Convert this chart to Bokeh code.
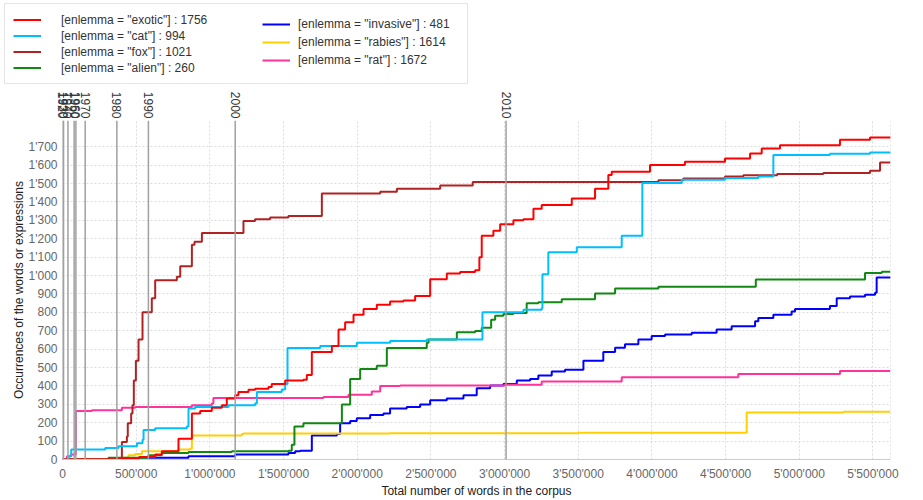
import math
from bokeh.plotting import figure
from bokeh.layouts import column, row
from bokeh.models import (Range1d, FixedTicker, CustomJSTickFormatter, Span, LinearAxis,
                          Legend, LegendItem)
from bokeh.embed import file_html
from bokeh.resources import INLINE

# ---------------- data ----------------
exotic_x = [0, 400000, 520000, 629000, 674000, 787000, 878000, 934000, 1013000, 1081000,
            1115000, 1172000, 1194000, 1262000, 1307000, 1398000, 1420000, 1511000, 1635000, 1658000,
            1692000, 1828000, 1873000, 1918000, 1975000, 2043000, 2133000, 2223000, 2314000, 2393000,
            2495000, 2608000, 2698000, 2800000, 2829000, 2845000, 2924000, 2970000, 3060000, 3128000,
            3196000, 3252000, 3456000, 3614000, 3704000, 3727000, 3987000, 4224000, 4496000, 4666000,
            4745000, 4869000, 5276000, 5480000, 5619000]
exotic_y = [0, 5, 14, 27, 45, 113, 250, 263, 281, 295,
            331, 349, 367, 379, 385, 394, 411, 429, 433, 460,
            585, 617, 707, 746, 787, 818, 841, 859, 864, 889,
            980, 1011, 1020, 1029, 1100, 1217, 1243, 1279, 1301, 1306,
            1363, 1383, 1419, 1472, 1547, 1565, 1601, 1619, 1637, 1664,
            1691, 1708, 1739, 1750, 1756]

cat_x = [0, 41000, 59000, 290000, 380000, 505000, 543000, 550000, 629000, 844000,
         855000, 900000, 1126000, 1307000, 1319000, 1488000, 1511000, 1527000, 1749000, 1997000,
         2223000, 2472000, 2850000, 3128000, 3252000, 3257000, 3297000, 3490000, 3795000, 3935000,
         4202000, 4496000, 4722000, 4824000, 5208000, 5480000, 5619000]
cat_y = [0, 18, 54, 63, 72, 89, 107, 161, 170, 179,
         277, 286, 295, 304, 367, 381, 411, 606, 617, 635,
         644, 653, 801, 814, 823, 1007, 1127, 1154, 1217, 1503,
         1521, 1530, 1539, 1655, 1662, 1669, 1673]

fox_x = [0, 403000, 437000, 443000, 466000, 475000, 484000, 498000, 516000, 543000,
         606000, 629000, 776000, 799000, 878000, 896000, 946000, 1228000, 1307000, 1409000,
         1533000, 1760000, 2156000, 2269000, 2563000, 2784000, 4044000, 4213000, 4496000, 4620000,
         4850000, 5163000, 5480000, 5548000, 5619000]
fox_y = [0, 95, 125, 197, 250, 295, 430, 537, 653, 801,
         877, 975, 993, 1050, 1168, 1184, 1231, 1297, 1306, 1315,
         1324, 1446, 1455, 1472, 1490, 1508, 1518, 1528, 1538, 1546,
         1552, 1557, 1570, 1614, 1614]

alien_x = [0, 312000, 584000, 674000, 855000, 1149000, 1533000, 1556000, 1574000, 1635000,
           1896000, 1952000, 2020000, 2133000, 2201000, 2472000, 2484000, 2676000, 2800000, 2845000,
           2909000, 2936000, 2992000, 3060000, 3150000, 3229000, 3388000, 3614000, 3750000, 4044000,
           4705000, 5446000, 5560000, 5619000]
alien_y = [0, 9, 23, 36, 41, 45, 48, 80, 179, 197,
           299, 438, 492, 510, 606, 635, 653, 692, 698, 716,
           760, 782, 791, 796, 850, 855, 871, 903, 930, 939,
           979, 1014, 1021, 1021]

invasive_x = [0, 584000, 855000, 1172000, 1533000, 1579000, 1613000, 1692000, 1862000, 1884000,
              1952000, 1997000, 2088000, 2178000, 2223000, 2336000, 2427000, 2495000, 2608000, 2721000,
              2811000, 2902000, 2992000, 3083000, 3173000, 3229000, 3320000, 3410000, 3535000, 3670000,
              3750000, 3817000, 3908000, 3998000, 4089000, 4270000, 4439000, 4541000, 4700000, 4722000,
              4824000, 4948000, 4971000, 5208000, 5254000, 5344000, 5446000, 5514000, 5525000, 5619000]
invasive_y = [0, 9, 18, 27, 36, 45, 48, 131, 138, 197,
              209, 224, 242, 250, 277, 286, 299, 322, 331, 349,
              388, 402, 411, 429, 438, 456, 478, 488, 537, 585,
              608, 626, 653, 671, 680, 689, 707, 725, 751, 769,
              787, 805, 818, 835, 877, 886, 895, 907, 989, 993]

rabies_x = [0, 403000, 448000, 493000, 539000, 787000, 866000, 878000, 1217000, 1228000,
            2223000, 3500000, 4643000, 5300000, 5619000]
rabies_y = [0, 9, 23, 30, 45, 54, 59, 131, 138, 141,
            143, 146, 256, 260, 260]

rat_x = [0, 30000, 59000, 91000, 199000, 403000, 493000, 878000, 1013000, 1024000,
         1771000, 1941000, 2099000, 2156000, 2291000, 3000000, 3252000, 3795000, 4586000, 5276000,
         5619000]
rat_y = [0, 18, 27, 263, 268, 281, 286, 295, 304, 335,
         340, 352, 370, 399, 402, 406, 424, 447, 465, 481,
         481]

legend_left = ['[enlemma = "exotic"] : 1756', '[enlemma = "cat"] : 994',
               '[enlemma = "fox"] : 1021', '[enlemma = "alien"] : 260']
legend_right = ['[enlemma = "invasive"] : 481', '[enlemma = "rabies"] : 1614',
                '[enlemma = "rat"] : 1672']

years = ["1920", "1930", "1940", "1950", "1960", "1970", "1980", "1990", "2000", "2010"]
year_x = [2000, 7000, 37000, 79000, 91000, 154000, 369000, 583000, 1172000, 3010000]

x_ticks = [0, 500000, 1000000, 1500000, 2000000, 2500000, 3000000, 3500000, 4000000,
           4500000, 5000000, 5500000]
y_ticks = list(range(0, 1800, 100))
x_end = 5619000
y_end = 1843

FONT = "Liberation Sans"
LEG_H = 88

# ---------------- main figure ----------------
p = figure(width=923, height=500 - LEG_H, x_range=Range1d(0, x_end), y_range=Range1d(0, y_end),
           output_backend="svg", toolbar_location=None,
           min_border_left=62, min_border_right=33, min_border_top=120 - LEG_H, min_border_bottom=37)
p.outline_line_color = None
p.background_fill_color = "white"

fmt = CustomJSTickFormatter(code=r"""
const s = Math.round(tick).toString();
return s.replace(/\B(?=(\d{3})+(?!\d))/g, "'");
""")


def style_axis(ax):
    ax.major_tick_line_color = None
    ax.minor_tick_line_color = None
    ax.major_tick_out = 0
    ax.major_tick_in = 0
    ax.minor_tick_out = 0
    ax.minor_tick_in = 0
    ax.major_label_text_font = FONT
    ax.major_label_text_font_size = "12px"
    ax.axis_label_text_font = FONT
    ax.axis_label_text_font_size = "12px"
    ax.axis_label_text_font_style = "normal"
    ax.axis_label_text_color = "#222222"


for ax in (p.xaxis[0], p.yaxis[0]):
    style_axis(ax)
    ax.formatter = fmt
    ax.major_label_text_color = "#666666"

p.xaxis[0].ticker = FixedTicker(ticks=x_ticks)
p.yaxis[0].ticker = FixedTicker(ticks=y_ticks)
p.xaxis[0].axis_line_color = "#cccccc"
p.yaxis[0].axis_line_color = None
p.xaxis[0].major_label_standoff = 7
p.xaxis[0].axis_label_standoff = 0
p.yaxis[0].major_label_standoff = 5
p.yaxis[0].axis_label_standoff = 0
p.xaxis[0].axis_label = "Total number of words in the corpus"
p.yaxis[0].axis_label = "Occurrences of the words or expressions"

p.xgrid.grid_line_color = "#dcdcdc"
p.xgrid.grid_line_dash = "2 2"
p.ygrid.grid_line_color = "#dcdcdc"
p.ygrid.grid_line_dash = "2 2"

p.add_layout(Span(location=x_end, dimension="height", line_color="#cccccc",
                  line_dash="2 2", line_width=1))

# year marker lines and their labels (top axis)
for xv in year_x:
    p.add_layout(Span(location=xv, dimension="height", line_color="#a0a0a0", line_width=1.5))

year_axis = LinearAxis(ticker=FixedTicker(ticks=year_x),
                       major_label_overrides={xv: yr for xv, yr in zip(year_x, years)},
                       major_label_orientation=-math.pi / 2)
style_axis(year_axis)
year_axis.axis_line_color = None
year_axis.major_label_text_color = "#333333"
year_axis.major_label_standoff = 2
p.add_layout(year_axis, "above")

series = [
    (invasive_x, invasive_y, "#0000ff"),
    (rabies_x, rabies_y, "#ffd000"),
    (rat_x, rat_y, "#ff3399"),
    (alien_x, alien_y, "#118811"),
    (fox_x, fox_y, "#b22222"),
    (cat_x, cat_y, "#00bfff"),
    (exotic_x, exotic_y, "#ff0000"),
]
for xs, ys, col in series:
    p.step(xs, ys, mode="after", line_color=col, line_width=2)

# ---------------- legend strip ----------------
lg = figure(width=923, height=LEG_H, x_range=Range1d(0, x_end), y_range=Range1d(0, y_end),
            output_backend="svg", toolbar_location=None,
            x_axis_location=None, y_axis_location=None,
            min_border_left=0, min_border_right=0, min_border_top=0, min_border_bottom=0)
lg.outline_line_color = None
lg.xgrid.visible = False
lg.ygrid.visible = False

lrend = {}
for xs, ys, col in series:
    lrend[col] = lg.step(xs, ys, mode="after", line_color=col, line_width=2, visible=False)

left_cols = ["#ff0000", "#00bfff", "#b22222", "#118811"]
right_cols = ["#0000ff", "#ffd000", "#ff3399"]

leg1 = Legend(items=[LegendItem(label=t, renderers=[lrend[c]]) for t, c in zip(legend_left, left_cols)],
              location=(4, 4), padding=8, spacing=1, glyph_width=28, glyph_height=15,
              label_height=15, label_width=398, label_standoff=20, margin=0,
              border_line_color="#cccccc", border_line_width=1.5,
              background_fill_color="white", background_fill_alpha=1.0,
              inactive_fill_alpha=0.0,
              label_text_font=FONT, label_text_font_size="12px", label_text_color="#333333")
leg2 = Legend(items=[LegendItem(label=t, renderers=[lrend[c]]) for t, c in zip(legend_right, right_cols)],
              location=(262, 19), padding=0, spacing=0, glyph_width=28, glyph_height=18,
              label_height=18, label_standoff=8, margin=0,
              border_line_color=None, background_fill_alpha=0.0,
              inactive_fill_alpha=0.0,
              label_text_font=FONT, label_text_font_size="12px", label_text_color="#333333")
lg.add_layout(leg1)
lg.add_layout(leg2)

open("out.html", "w").write(file_html(column(row(lg), p, spacing=0), INLINE))
